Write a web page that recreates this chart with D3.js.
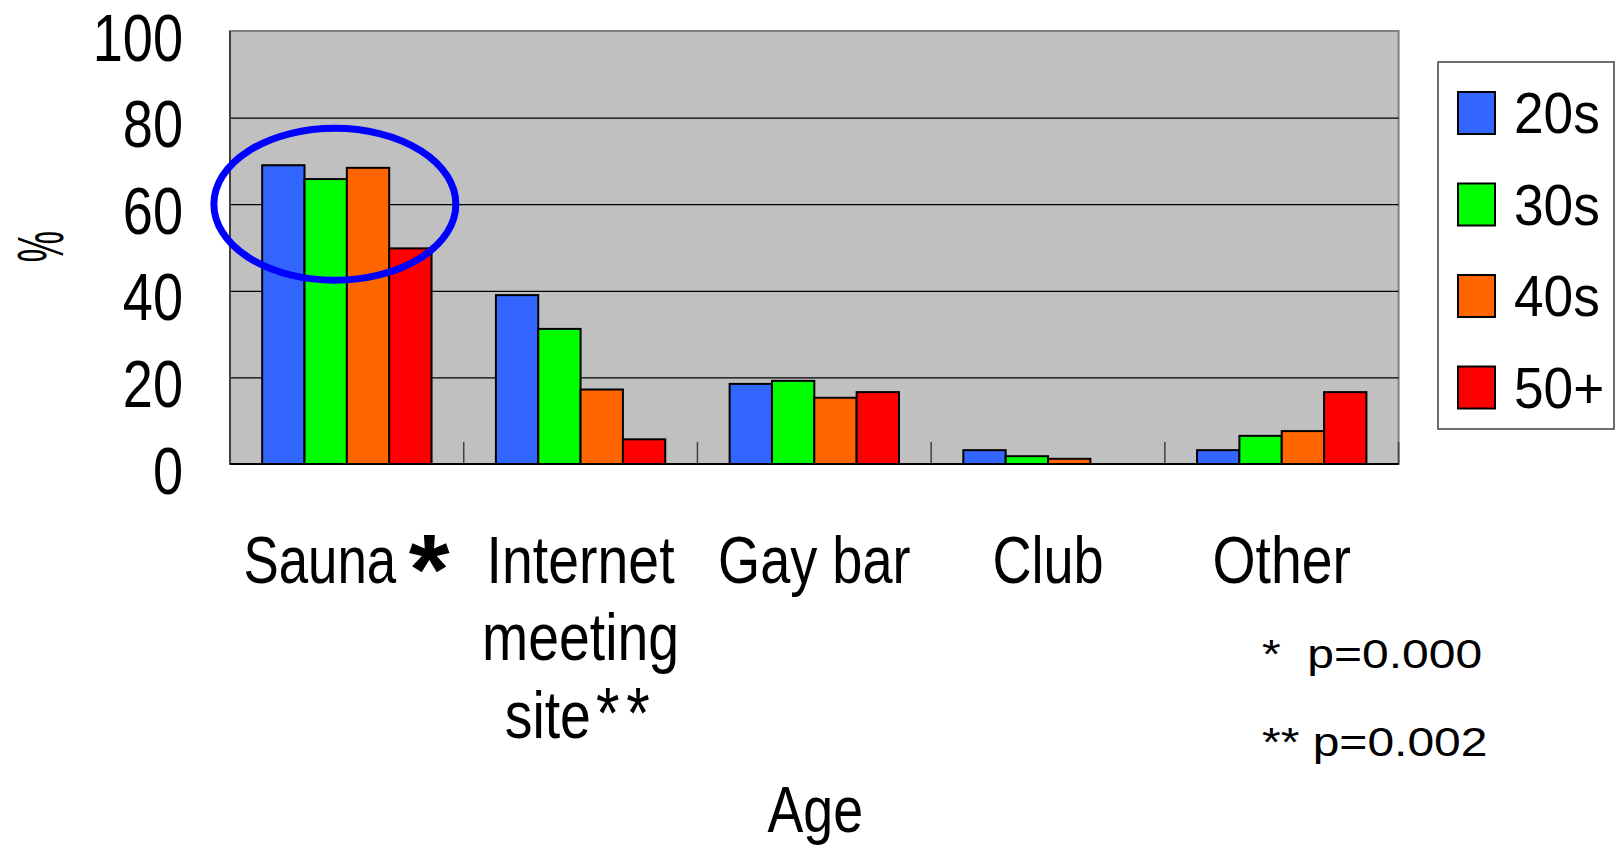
<!DOCTYPE html>
<html>
<head>
<meta charset="utf-8">
<script src="https://cdn.jsdelivr.net/npm/d3@7"></script>
<style>
  html, body { margin: 0; padding: 0; background: #ffffff; }
  svg { display: block; font-family: "Liberation Sans", Arial, sans-serif; }
</style>
</head>
<body>
<svg id="chart" width="1616" height="846"></svg>
<script>
// ---------- data ----------
const categories = ["Sauna", "Internet meeting site", "Gay bar", "Club", "Other"];
const categoryLabelLines = [["Sauna"], ["Internet", "meeting", "site**"], ["Gay bar"], ["Club"], ["Other"]];
const seriesNames = ["20s", "30s", "40s", "50+"];
const values20s = [69.0, 39.0, 18.5, 3.2, 3.2];
const values30s = [65.8, 31.2, 19.2, 1.8, 6.5];
const values40s = [68.4, 17.2, 15.3, 1.2, 7.6];
const values50plus = [49.8, 5.7, 16.6, 0.0, 16.6];
const seriesValues = [values20s, values30s, values40s, values50plus];
const seriesColors = ["#3366ff", "#00ff00", "#ff6600", "#ff0000"];
const yTickValues = [0, 20, 40, 60, 80, 100];
const yAxisTitle = "%";
const xAxisTitle = "Age";
const pValueNotes = ["*  p=0.000", "** p=0.002"];

// ---------- layout ----------
const svg = d3.select("#chart");
const plot = { left: 230, right: 1398.6, top: 31, bottom: 464 };

const x0 = d3.scaleBand().domain(categories).range([plot.left, plot.right]).paddingInner(0).paddingOuter(0);
const x1 = d3.scaleBand().domain(seriesNames).range([0, x0.bandwidth()]).paddingInner(0).paddingOuter(0.76);
const y = d3.scaleLinear().domain([0, 100]).range([plot.bottom, plot.top]);

// plot background
svg.append("rect")
  .attr("x", plot.left).attr("y", plot.top)
  .attr("width", plot.right - plot.left).attr("height", plot.bottom - plot.top)
  .attr("fill", "#c0c0c0").attr("stroke", "#808080").attr("stroke-width", 2);

// gridlines
const grid = svg.append("g").attr("transform", `translate(${plot.left},0)`)
  .call(d3.axisLeft(y).tickValues(yTickValues.filter(v => v > 0 && v < 100))
    .tickSize(-(plot.right - plot.left)).tickFormat(""));
grid.select(".domain").remove();
grid.selectAll(".tick line").attr("stroke", "#000").attr("stroke-width", 1.2);

// category separators (ticks pointing up into plot)
const boundaries = categories.map(c => x0(c)).concat([plot.right]);
svg.append("g").selectAll("line").data(boundaries).join("line")
  .attr("x1", d => d).attr("x2", d => d)
  .attr("y1", plot.bottom).attr("y2", plot.bottom - 22)
  .attr("stroke", "#404040").attr("stroke-width", 1.5);

// bars
const groups = svg.append("g").selectAll("g").data(categories).join("g")
  .attr("transform", c => `translate(${x0(c)},0)`);
groups.selectAll("rect")
  .data((c, ci) => seriesNames.map((s, si) => ({ s, si, v: seriesValues[si][ci] })))
  .join("rect")
  .attr("x", d => x1(d.s))
  .attr("y", d => y(d.v))
  .attr("width", x1.bandwidth())
  .attr("height", d => y(0) - y(d.v))
  .attr("fill", d => seriesColors[d.si])
  .attr("stroke", "#000").attr("stroke-width", 2);

// axis lines
svg.append("line").attr("x1", plot.left).attr("x2", plot.left)
  .attr("y1", plot.top).attr("y2", plot.bottom)
  .attr("stroke", "#404040").attr("stroke-width", 2);
svg.append("line").attr("x1", plot.left).attr("x2", plot.right)
  .attr("y1", plot.bottom).attr("y2", plot.bottom)
  .attr("stroke", "#000").attr("stroke-width", 2);

// y tick labels
const yAxis = svg.append("g").attr("transform", `translate(${plot.left},0)`)
  .call(d3.axisLeft(y).tickValues(yTickValues).tickSize(0).tickFormat(d3.format("d")));
yAxis.select(".domain").remove();
yAxis.selectAll(".tick text")
  .attr("x", 0).attr("dy", null)
  .attr("transform", "translate(-47,29) scale(0.82,1)")
  .attr("font-family", "Liberation Sans, Arial, sans-serif")
  .attr("font-size", 66).attr("fill", "#000");

// y axis title
svg.append("text")
  .attr("transform", `translate(63,${y(50) - 1}) rotate(-90) scale(0.55,1)`)
  .attr("text-anchor", "middle")
  .attr("font-size", 64).attr("fill", "#000")
  .text(yAxisTitle);

// category labels
const labelOffsets = [-27, 0, 0, 0, 0];
const labelScales = [0.8, 0.84, 0.82, 0.82, 0.84];
const catLabels = svg.append("g").selectAll("g").data(categories).join("g")
  .attr("transform", (c, i) => `translate(${x0(c) + x0.bandwidth() / 2 + labelOffsets[i]},583) scale(${labelScales[i]},1)`);
const catText = catLabels.append("text")
  .attr("text-anchor", "middle").attr("font-size", 66).attr("fill", "#000");
catText.each(function (c, i) {
  const t = d3.select(this);
  categoryLabelLines[i].forEach((line, li) => {
    const m = line.match(/^(.*?)(\*+)$/);
    const ts = t.append("tspan").attr("x", 0).attr("dy", li === 0 ? 0 : 77.5);
    if (m) {
      ts.text(m[1]);
      t.append("tspan").attr("dx", 6).attr("letter-spacing", 8).attr("font-size", 72).text(m[2]);
    } else {
      ts.text(line);
    }
  });
});

// big asterisk after Sauna
svg.append("text")
  .attr("transform", `translate(${x0(categories[0]) + x0.bandwidth() / 2 + 62},604) scale(1.05,1)`)
  .attr("font-size", 100).attr("font-weight", "bold").attr("fill", "#000")
  .text("*");

// x axis title
svg.append("text")
  .attr("transform", `translate(${(plot.left + plot.right) / 2 + 1},832) scale(0.84,1)`)
  .attr("text-anchor", "middle").attr("font-size", 64).attr("fill", "#000")
  .text(xAxisTitle);

// p-value notes
svg.append("g").selectAll("text").data(pValueNotes).join("text")
  .attr("transform", (d, i) => `translate(1262,${668 + i * 88}) scale(1.2,1)`)
  .attr("font-size", 40).attr("fill", "#000")
  .style("white-space", "pre")
  .text(d => d);

// legend
const legend = svg.append("g");
legend.append("rect")
  .attr("x", 1438).attr("y", 62).attr("width", 176).attr("height", 367)
  .attr("fill", "#fff").attr("stroke", "#404040").attr("stroke-width", 1.5);
const items = legend.selectAll("g.item").data(seriesNames).join("g")
  .attr("class", "item")
  .attr("transform", (d, i) => `translate(1458,${92 + i * 91.5})`);
items.append("rect")
  .attr("width", 37).attr("height", 42)
  .attr("fill", (d, i) => seriesColors[i])
  .attr("stroke", "#000").attr("stroke-width", 2);
items.append("text")
  .attr("transform", "translate(56,41) scale(0.95,1.04)")
  .attr("font-size", 56).attr("fill", "#000")
  .text(d => d);

// annotation ellipse around the Sauna group
svg.append("ellipse")
  .attr("cx", x0(categories[0]) + x0.bandwidth() / 2 - 12)
  .attr("cy", y(60))
  .attr("rx", 121).attr("ry", 76)
  .attr("fill", "none").attr("stroke", "#0000ff").attr("stroke-width", 7);
</script>
</body>
</html>
